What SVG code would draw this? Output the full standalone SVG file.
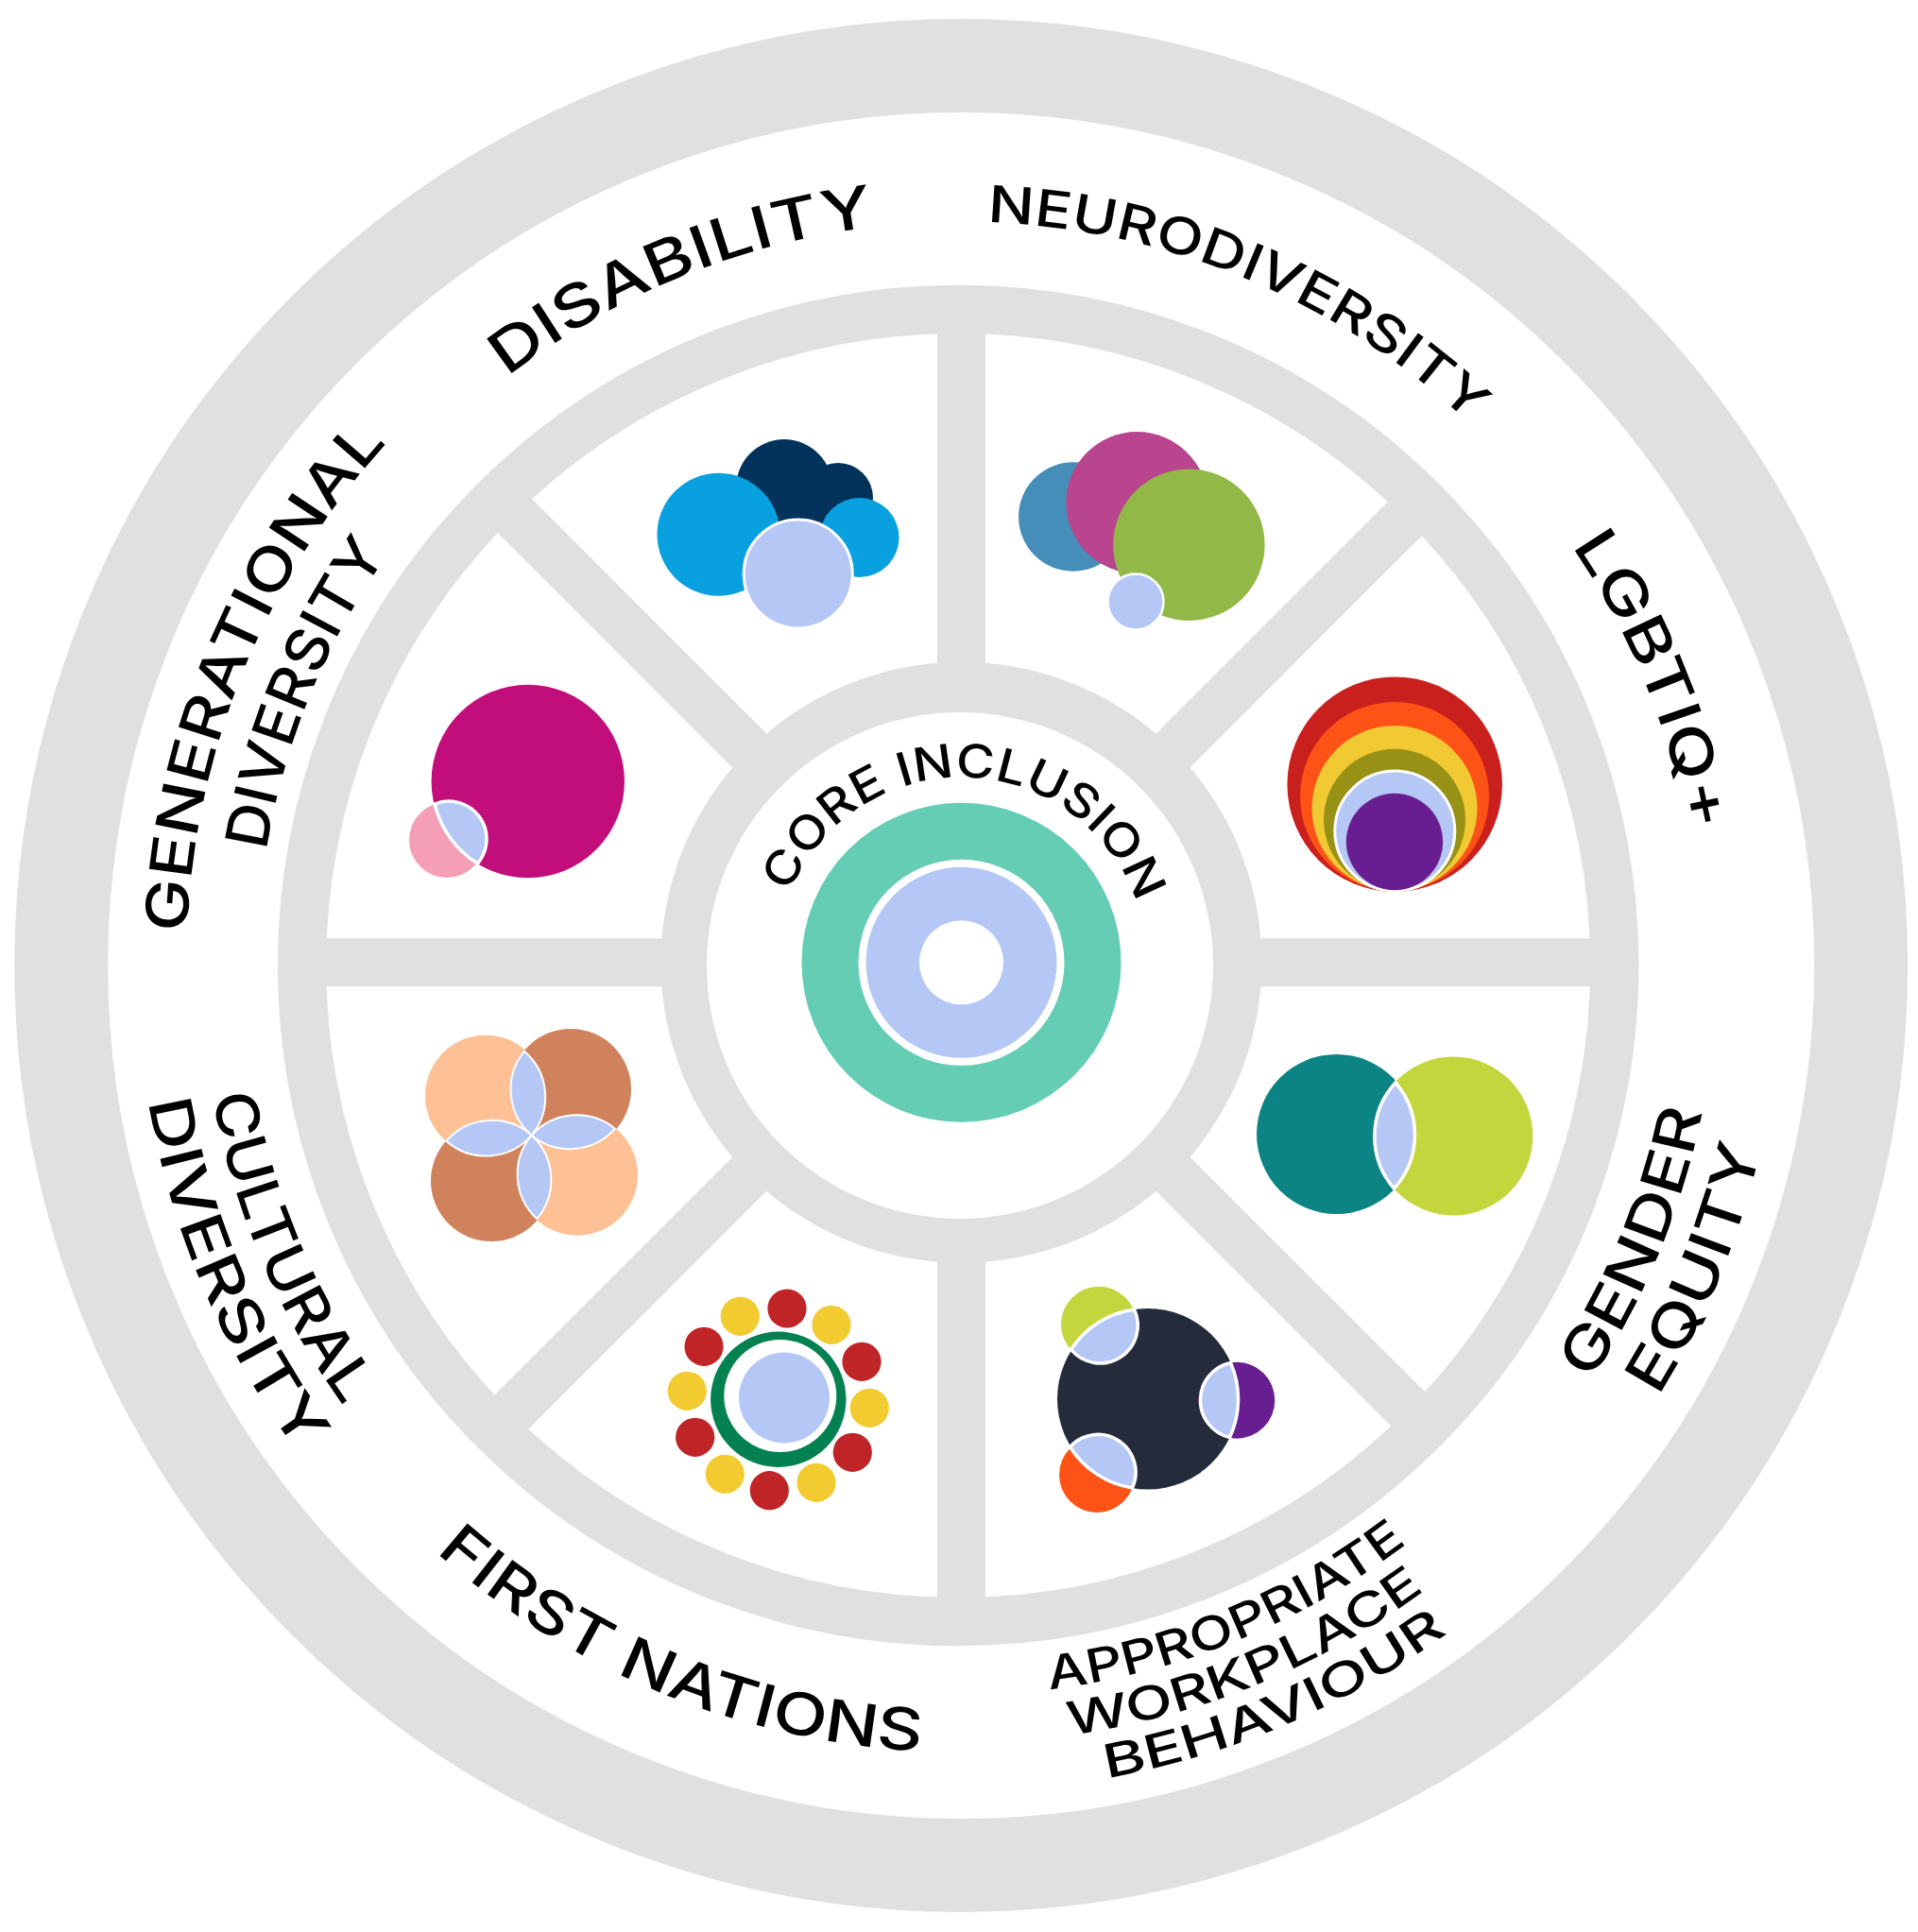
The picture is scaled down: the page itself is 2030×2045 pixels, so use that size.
<svg xmlns="http://www.w3.org/2000/svg" xmlns:xlink="http://www.w3.org/1999/xlink" width="2030" height="2045" viewBox="0 0 2030 2045">
<style>
text{font-family:"Inter","Liberation Sans",sans-serif;font-weight:500;fill:#000}
.o{font-size:62px}.m{font-size:49px}
.spoke{stroke:#e0e0e0;stroke-width:51;fill:none}
.ring{fill:none;stroke:#e0e0e0}
.lens{fill:#b5c7f5;stroke:#fff;stroke-width:3.5}
.lens2{fill:#b5c7f5;stroke:#fff;stroke-width:2}
.lav{fill:#b5c7f5}
</style>
<defs>
<path id="f196" d="M1017.4 822.7A196 196 0 0 1 1017.4 1214.7A196 196 0 0 1 1017.4 822.7"/>
<path id="f745" d="M1017.4 273.7A745 745 0 0 1 1017.4 1763.7A745 745 0 0 1 1017.4 273.7"/>
<path id="f782" d="M1017.4 236.7A782 782 0 0 1 1017.4 1800.7A782 782 0 0 1 1017.4 236.7"/>
<path id="f784" d="M1017.4 234.7A784 784 0 0 1 1017.4 1802.7A784 784 0 0 1 1017.4 234.7"/>
<path id="f820" d="M1017.4 198.7A820 820 0 0 1 1017.4 1838.7A820 820 0 0 1 1017.4 198.7"/>
<path id="s775" d="M1017.4 1793.7A775 775 0 0 0 1017.4 243.7A775 775 0 0 0 1017.4 1793.7"/>
<path id="s800" d="M1017.4 1818.7A800 800 0 0 0 1017.4 218.7A800 800 0 0 0 1017.4 1818.7"/>
<path id="s805" d="M1017.4 1823.7A805 805 0 0 0 1017.4 213.7A805 805 0 0 0 1017.4 1823.7"/>
<path id="s826" d="M1017.4 1844.7A826 826 0 0 0 1017.4 192.7A826 826 0 0 0 1017.4 1844.7"/>
<path id="s836" d="M1017.4 1854.7A836 836 0 0 0 1017.4 182.7A836 836 0 0 0 1017.4 1854.7"/>
<path id="s869" d="M1017.4 1887.7A869 869 0 0 0 1017.4 149.7A869 869 0 0 0 1017.4 1887.7"/>
<path id="s873" d="M1017.4 1891.7A873 873 0 0 0 1017.4 145.7A873 873 0 0 0 1017.4 1891.7"/>
<path id="s877" d="M1017.4 1895.7A877 877 0 0 0 1017.4 141.7A877 877 0 0 0 1017.4 1895.7"/>
</defs>
<rect width="2030" height="2045" fill="#fff"/>
<g id="rings">
<circle class="ring" cx="1017.2" cy="1022" r="952.45" stroke-width="98.9"/>
<circle class="ring" cx="1014.2" cy="1022" r="694.6" stroke-width="51.4"/>
<circle cx="1017.4" cy="1018.7" r="318" fill="#e0e0e0"/>
<circle cx="1016" cy="1022" r="268" fill="#fff"/>
</g>
<g id="connectors">
<line class="spoke" x1="1017.4" y1="738" x2="1017.4" y2="339"/>
<line class="spoke" x1="1017.4" y1="1299" x2="1017.4" y2="1698"/>
<line class="spoke" x1="737" y1="1018.7" x2="338" y2="1018.7"/>
<line class="spoke" x1="1298" y1="1018.7" x2="1697" y2="1018.7"/>
<line class="spoke" x1="1215.4" y1="820.7" x2="1498" y2="538"/>
<line class="spoke" x1="819.4" y1="820.7" x2="537" y2="538"/>
<line class="spoke" x1="1215.4" y1="1216.7" x2="1498" y2="1499"/>
<line class="spoke" x1="819.4" y1="1216.7" x2="537" y2="1499"/>
</g>
<g id="core">
<circle cx="1017.5" cy="1018.8" r="169" fill="#64cdb4"/>
<circle cx="1017.5" cy="1018.8" r="105" class="lav" stroke="#fff" stroke-width="8"/>
<circle cx="1017.5" cy="1018.8" r="44.5" fill="#fff"/>
<text class="m" transform="rotate(-68 1017.4 1018.7)"><textPath xlink:href="#f196" href="#f196" textLength="476" lengthAdjust="spacingAndGlyphs">CORE INCLUSION</textPath></text>
</g>
<g id="disability">
<circle cx="830" cy="516" r="51" fill="#03335b"/>
<circle cx="887" cy="527" r="37" fill="#03335b"/>
<circle cx="811" cy="565" r="26" fill="#03335b"/>
<circle cx="855" cy="560" r="30" fill="#03335b"/>
<circle cx="760.5" cy="565.7" r="65" fill="#08a0df"/>
<circle cx="909.6" cy="569" r="42" fill="#08a0df"/>
<circle cx="844.7" cy="607.5" r="57.5" class="lav" stroke="#fff" stroke-width="3"/>
<text class="o" transform="rotate(-37.8 1017.4 1018.7)"><textPath xlink:href="#f784" href="#f784" textLength="425" lengthAdjust="spacingAndGlyphs">DISABILITY</textPath></text>
</g>
<g id="neurodiversity">
<circle cx="1135.7" cy="547" r="57.7" fill="#468eba"/>
<circle cx="1203.4" cy="532" r="75" fill="#b8458d"/>
<circle cx="1258.4" cy="576.7" r="80.2" fill="#92b947"/>
<circle cx="1202" cy="637" r="29.5" class="lav" stroke="#fff" stroke-width="2.5"/>
<text class="o" style="font-size:54px" transform="rotate(2 1017.4 1018.7)"><textPath xlink:href="#f784" href="#f784" textLength="565" lengthAdjust="spacingAndGlyphs">NEURODIVERSITY</textPath></text>
</g>
<g id="lgbtiq">
<circle cx="1476.2" cy="830.2" r="113.8" fill="#c9201e"/>
<circle cx="1476" cy="843" r="100" fill="#fe5316"/>
<circle cx="1476" cy="855.5" r="87.5" fill="#f1c933"/>
<circle cx="1476" cy="867.7" r="75" fill="#979115"/>
<circle cx="1476.3" cy="879.6" r="63.5" class="lav" stroke="#fff" stroke-width="3"/>
<circle cx="1476" cy="891" r="51.2" fill="#681d90"/>
<text class="o" transform="rotate(55.7 1017.4 1018.7)"><textPath xlink:href="#f782" href="#f782" textLength="330" lengthAdjust="spacingAndGlyphs">LGBTIQ+</textPath></text>
</g>
<g id="gender-equity">
<circle cx="1414.5" cy="1200.5" r="84.5" fill="#0c8484"/>
<circle cx="1538.3" cy="1202.5" r="84" fill="#c4d63d"/>
<path class="lens" d="M1477 1146A84 84 0 0 0 1475.5 1258A84.5 84.5 0 0 0 1477 1146Z"/>
<text class="o" transform="rotate(-56.4 1017.4 1018.7)"><textPath xlink:href="#s800" href="#s800" textLength="310" lengthAdjust="spacingAndGlyphs">GENDER</textPath></text>
<text class="o" transform="rotate(-58.1 1017.4 1018.7)"><textPath xlink:href="#s869" href="#s869" textLength="285" lengthAdjust="spacingAndGlyphs">EQUITY</textPath></text>
</g>
<g id="appropriate-workplace-behaviour">
<circle cx="1214.8" cy="1480.8" r="95.8" fill="#242c3c"/>
<circle cx="1163" cy="1401.7" r="40" fill="#c4d63d"/>
<circle cx="1308.8" cy="1482.2" r="40.5" fill="#681d90"/>
<circle cx="1161" cy="1561" r="40" fill="#fe5316"/>
<path class="lens" d="M1200.5 1386A95.8 95.8 0 0 0 1133.5 1428.5A40 40 0 0 0 1200.5 1386Z"/>
<path class="lens" d="M1302.5 1442.5A40.5 40.5 0 0 0 1301.5 1521.5A95.8 95.8 0 0 0 1302.5 1442.5Z"/>
<path class="lens" d="M1132.5 1531.5A40 40 0 0 1 1198.5 1575A95.8 95.8 0 0 1 1132.5 1531.5Z"/>
<text class="m" transform="rotate(-6.9 1017.4 1018.7)"><textPath xlink:href="#s775" href="#s775" textLength="414" lengthAdjust="spacingAndGlyphs">APPROPRIATE</textPath></text>
<text class="m" transform="rotate(-8 1017.4 1018.7)"><textPath xlink:href="#s826" href="#s826" textLength="410" lengthAdjust="spacingAndGlyphs">WORKPLACE</textPath></text>
<text class="m" transform="rotate(-10.1 1017.4 1018.7)"><textPath xlink:href="#s877" href="#s877" textLength="396" lengthAdjust="spacingAndGlyphs">BEHAVIOUR</textPath></text>
</g>
<g id="first-nations">
<circle cx="823.8" cy="1481.3" r="71.7" fill="#038151"/>
<circle cx="825.8" cy="1477.5" r="59.5" fill="#fff"/>
<circle cx="830" cy="1479.5" r="48" class="lav"/>
<g fill="#bf2426">
<circle cx="833" cy="1385" r="20.6"/><circle cx="912" cy="1441.3" r="20.6"/><circle cx="902.3" cy="1537.3" r="20.6"/><circle cx="814.3" cy="1577.7" r="20.6"/><circle cx="735.7" cy="1521.3" r="20.6"/><circle cx="745" cy="1425.3" r="20.6"/>
</g>
<g fill="#f2cb31">
<circle cx="880" cy="1402.3" r="20.6"/><circle cx="920.3" cy="1490.3" r="20.6"/><circle cx="864" cy="1569.3" r="20.6"/><circle cx="767.3" cy="1560.3" r="20.6"/><circle cx="727.3" cy="1472.3" r="20.6"/><circle cx="783.3" cy="1393.3" r="20.6"/>
</g>
<text class="o" transform="rotate(41.7 1017.4 1018.7)"><textPath xlink:href="#s836" href="#s836" textLength="566" lengthAdjust="spacingAndGlyphs">FIRST NATIONS</textPath></text>
</g>
<g id="cultural-diversity">
<circle cx="514" cy="1159.7" r="64" fill="#fec095"/>
<circle cx="604" cy="1153" r="64" fill="#d0825d"/>
<circle cx="520" cy="1250" r="64" fill="#d0825d"/>
<circle cx="611" cy="1243.7" r="64" fill="#fec095"/>
<path class="lens2" d="M555 1112.7A64 64 0 0 0 562.7 1201.7A64 64 0 0 0 555 1112.7Z"/>
<path class="lens2" d="M651 1194.7A64 64 0 0 0 562.7 1201.7A64 64 0 0 0 651 1194.7Z"/>
<path class="lens2" d="M568.3 1290A64 64 0 0 0 562.7 1201.7A64 64 0 0 0 568.3 1290Z"/>
<path class="lens2" d="M472.3 1207.7A64 64 0 0 0 562.7 1201.7A64 64 0 0 0 472.3 1207.7Z"/>
<text class="o" transform="rotate(79.9 1017.4 1018.7)"><textPath xlink:href="#s805" href="#s805" textLength="360" lengthAdjust="spacingAndGlyphs">CULTURAL</textPath></text>
<text class="o" transform="rotate(80.3 1017.4 1018.7)"><textPath xlink:href="#s873" href="#s873" textLength="408" lengthAdjust="spacingAndGlyphs">DIVERSITY</textPath></text>
</g>
<g id="generational-diversity">
<circle cx="558.8" cy="827" r="102.2" fill="#c20e7a"/>
<circle cx="473" cy="889" r="40" fill="#f49fb5"/>
<path class="lens" d="M460 851A102.2 102.2 0 0 0 505.5 914A40 40 0 0 0 460 851Z"/>
<text class="o" transform="rotate(-87.8 1017.4 1018.7)"><textPath xlink:href="#f820" href="#f820" textLength="572" lengthAdjust="spacingAndGlyphs">GENERATIONAL</textPath></text>
<text class="o" transform="rotate(-80.9 1017.4 1018.7)"><textPath xlink:href="#f745" href="#f745" textLength="342" lengthAdjust="spacingAndGlyphs">DIVERSITY</textPath></text>
</g>
</svg>
